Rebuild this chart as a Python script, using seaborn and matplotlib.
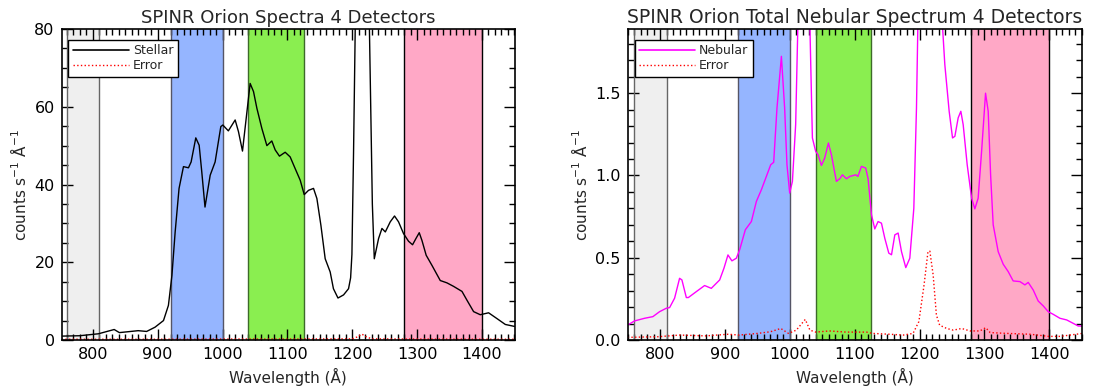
import numpy as np
import pandas as pd
import seaborn as sns
import matplotlib
matplotlib.use("Agg")
import matplotlib.pyplot as plt
from matplotlib.ticker import MultipleLocator
from matplotlib.lines import Line2D

# ---- stellar spectrum (counts s^-1 A^-1) ----
stellar_wave = [752, 780, 808.7, 833, 841, 870, 883, 896, 909, 916.6, 922, 927, 933,
                939.8, 947.5, 951.6, 958.8, 964, 968, 973, 981, 988.6, 997.4, 1000.5,
                1009, 1019.5, 1024.6, 1030.8, 1036.5, 1042.6, 1047.8, 1053, 1060.7,
                1068.4, 1076, 1081.2, 1087.8, 1096.6, 1104.3, 1112, 1119.8, 1126,
                1132.6, 1140.3, 1145.5, 1151.7, 1158.3, 1166, 1171, 1178, 1186.6,
                1194.3, 1197.5, 1199.5, 1202, 1205, 1215, 1226, 1228.5, 1231, 1234,
                1240.6, 1245.8, 1251, 1258.6, 1265.2, 1271.4, 1279, 1286.8, 1293,
                1298.2, 1303.3, 1307.5, 1314, 1322.9, 1335.7, 1346, 1356.2, 1369.2,
                1377, 1387.1, 1397.4, 1410.2, 1423.2, 1436, 1450]
stellar_flux = [1.0, 1.1, 1.6, 2.7, 1.9, 2.4, 2.2, 3.3, 5.0, 8.9, 16.6, 27.8, 39.0,
                44.6, 44.3, 45.8, 52.0, 50.1, 43.3, 34.2, 42.4, 45.8, 54.9, 55.3,
                53.8, 56.6, 53.6, 48.6, 57.0, 66.0, 63.9, 59.6, 54.4,
                50.0, 51.2, 48.9, 47.3, 48.3, 47.1, 44.1, 41.1, 37.4,
                38.5, 39.0, 36.4, 29.5, 20.9, 17.5, 13.2, 10.8, 11.6,
                13.2, 16.0, 22.0, 48.0, 85.0, 160.0, 85.0, 60.0, 35.0, 20.9,
                26.1, 28.7, 27.8, 30.4, 31.9, 30.4, 27.4, 25.4, 24.5,
                26.1, 27.6, 25.6, 21.8, 19.2, 15.3, 14.7, 13.8, 12.5,
                10.2, 7.3, 6.5, 7.0, 5.5, 4.0, 3.5]
stellar_err_wave = [752, 900, 1000, 1100, 1200, 1208, 1215, 1222, 1230, 1300, 1450]
stellar_err = [0.2, 0.2, 0.25, 0.25, 0.3, 0.8, 1.5, 0.8, 0.3, 0.25, 0.2]

# ---- total nebular spectrum ----
neb_wave = [750, 760.6, 776, 788.8, 799.1, 809.5, 814.6, 822.3, 830, 833.6, 840.4,
            843.5, 855.8, 868.6, 878.9, 891.8, 898.4, 904.6, 910.7, 917.5, 922.6,
            931.4, 940.7, 948.4, 956.1, 963.8, 970.5, 975.1, 980.2, 987, 992,
            995.6, 999.8, 1004, 1009, 1012.6, 1025, 1030.7, 1034.8, 1039.9, 1043.5,
            1048.7, 1053.8, 1059.5, 1064.1, 1071.8, 1077, 1081.1, 1087.3, 1092.4,
            1101.7, 1105, 1110.4, 1117, 1120.7, 1125.9, 1131, 1136.1, 1141.3,
            1146.4, 1152.6, 1156.8, 1161.9, 1167, 1172.2, 1178.8, 1185, 1191.2,
            1195.3, 1197.8, 1216, 1234, 1239, 1245.7, 1250.9, 1254.5, 1259.6,
            1263.7, 1267.3, 1273.5, 1280.3, 1285.3, 1290.4, 1295.7, 1301.8, 1305.9,
            1309.6, 1313.6, 1321.3, 1329, 1336.7, 1344.4, 1354.8, 1362.5, 1367.6,
            1375.3, 1383, 1390.8, 1398.5, 1406.2, 1416.5, 1426.9, 1437.1, 1444.8,
            1451]
neb_flux = [0.091, 0.116, 0.132, 0.142, 0.172, 0.193, 0.197, 0.254, 0.375, 0.365,
            0.258, 0.258, 0.294, 0.331, 0.314, 0.365, 0.436, 0.517, 0.481, 0.497,
            0.548, 0.67, 0.72, 0.842, 0.913, 0.994, 1.065, 1.08, 1.41, 1.724, 1.41,
            1.065, 0.893, 0.964, 1.31, 1.95, 3.0, 1.95, 1.228, 1.146, 1.126,
            1.061, 1.106, 1.197, 1.126, 0.964, 0.98, 1.004, 0.98, 0.994,
            1.004, 0.994, 1.055, 1.045, 0.98, 0.761, 0.675, 0.72, 0.71,
            0.619, 0.528, 0.518, 0.639, 0.65, 0.537, 0.44, 0.497, 0.8,
            1.41, 2.0, 20.0, 2.0, 1.674, 1.39, 1.228, 1.238, 1.35,
            1.39, 1.309, 1.065, 0.862, 0.797, 0.862, 1.146, 1.5, 1.39,
            1.004, 0.7, 0.537, 0.461, 0.416, 0.359, 0.355, 0.335, 0.35,
            0.304, 0.237, 0.207, 0.172, 0.156, 0.132, 0.122, 0.101, 0.085,
            0.085]
neb_err_wave = [750, 797, 830, 870, 905, 922, 950, 970, 986, 998, 1010, 1023.8,
                1031, 1040, 1061, 1087, 1118, 1128, 1154, 1175, 1190, 1199, 1207,
                1213, 1215.9, 1221, 1226, 1231, 1242, 1252, 1265, 1278, 1293, 1302,
                1309, 1335, 1371, 1399, 1417, 1432, 1451]
neb_err = [0.016, 0.02, 0.03, 0.025, 0.035, 0.03, 0.04, 0.05, 0.07, 0.04, 0.06,
           0.125, 0.06, 0.048, 0.055, 0.048, 0.048, 0.04, 0.035, 0.03, 0.04,
           0.112, 0.335, 0.537, 0.54, 0.396, 0.152, 0.09, 0.07, 0.06, 0.07, 0.055,
           0.055, 0.075, 0.045, 0.04, 0.035, 0.022, 0.022, 0.03, 0.04]

# detector bandpasses (A) and their fill / edge colours
bands = [(760, 810), (920, 1000), (1040, 1125), (1280, 1400)]
band_fill = ["#efefef", "#95b5ff", "#8aee50", "#ffa8c6"]
band_edge = ["#666666", "#555566", "#3d6a2a", "#000000"]

sns.set_style("ticks")
plt.rcParams["font.family"] = ["DejaVu Sans"]

fig = plt.figure(figsize=(10.97, 3.90), dpi=100)
ax1 = fig.add_axes([0.0562, 0.1282, 0.4133, 0.7974])
ax2 = fig.add_axes([0.5722, 0.1282, 0.4144, 0.7974])


def draw_bands(ax):
    for (lo, hi), fc, ec in zip(bands, band_fill, band_edge):
        ax.axvspan(lo, hi, facecolor=fc, edgecolor="none", zorder=0)
        ax.axvline(lo, color=ec, lw=1.0, zorder=1)
        ax.axvline(hi, color=ec, lw=1.0, zorder=1)


def style_axes(ax, xlim, ylim, ymaj, ymin, fmt):
    ax.set_xlim(*xlim)
    ax.set_ylim(*ylim)
    ax.xaxis.set_major_locator(MultipleLocator(100))
    ax.xaxis.set_minor_locator(MultipleLocator(10))
    ax.yaxis.set_major_locator(MultipleLocator(ymaj))
    ax.yaxis.set_minor_locator(MultipleLocator(ymin))
    ax.yaxis.set_major_formatter(plt.FormatStrFormatter(fmt))
    ax.tick_params(which="both", direction="in", top=True, right=True,
                   labelsize=11.5, colors="black", pad=5)
    ax.tick_params(which="major", length=8, width=1.0)
    ax.tick_params(which="minor", length=4, width=1.0)
    for s in ax.spines.values():
        s.set_visible(True)
        s.set_linewidth(1.2)
        s.set_color("black")
        s.set_zorder(5)
    ax.set_xlabel("Wavelength (Å)", fontsize=11)
    ax.set_ylabel("counts s$^{-1}$ Å$^{-1}$", fontsize=11)


def add_legend(ax, color, label):
    ax.legend(handles=[Line2D([], [], color=color, lw=1.2, label=label),
                       Line2D([], [], color="red", lw=1.0, ls=":", label="Error")],
              loc="upper left", bbox_to_anchor=(0.015, 0.965), fontsize=9,
              frameon=True, fancybox=False, edgecolor="black", framealpha=1,
              handlelength=4.5, handletextpad=0.3, labelspacing=0.15,
              borderpad=0.35, borderaxespad=0)


# ---- left: stellar ----
draw_bands(ax1)
sns.lineplot(x=stellar_wave, y=stellar_flux, ax=ax1, color="black", lw=1.0,
             estimator=None, sort=False, zorder=3)
sns.lineplot(x=stellar_err_wave, y=stellar_err, ax=ax1, color="red", lw=1.0,
             linestyle=":", estimator=None, sort=False, zorder=3)
style_axes(ax1, (752, 1451), (0, 80), 20, 5, "%d")
ax1.set_title("SPINR Orion Spectra 4 Detectors", fontsize=13, pad=4)
add_legend(ax1, "black", "Stellar")

# ---- right: nebular ----
draw_bands(ax2)
sns.lineplot(x=neb_wave, y=neb_flux, ax=ax2, color="#ff00ff", lw=1.0,
             estimator=None, sort=False, zorder=3)
sns.lineplot(x=neb_err_wave, y=neb_err, ax=ax2, color="red", lw=1.0,
             linestyle=":", estimator=None, sort=False, zorder=3)
style_axes(ax2, (750, 1451), (0, 1.89), 0.5, 0.1, "%.1f")
ax2.set_title("SPINR Orion Total Nebular Spectrum 4 Detectors", fontsize=13.5, pad=4)
add_legend(ax2, "#ff00ff", "Nebular")

fig.savefig("out.png", dpi=100)
